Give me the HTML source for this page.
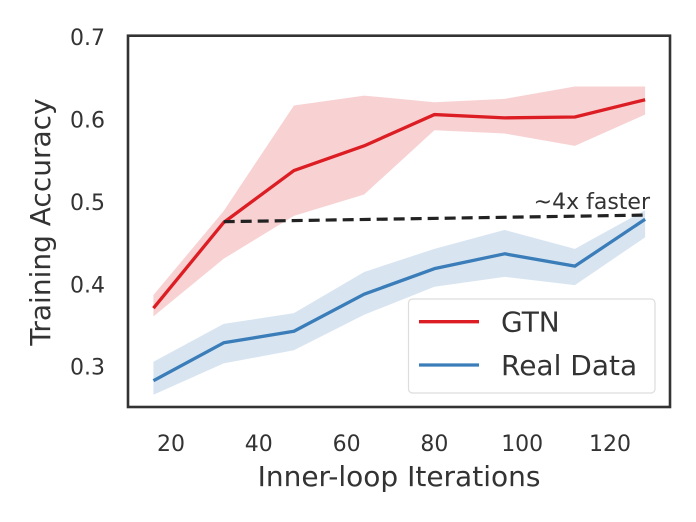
<!DOCTYPE html>
<html><head><meta charset="utf-8"><style>
body{margin:0;background:#fff;}
svg{display:block;font-family:"DejaVu Sans","Liberation Sans",sans-serif;}
</style></head><body>
<svg id="chart" width="696" height="522" viewBox="0 0 696 522"></svg>
<script>
const iterations=[16,32,48,64,80,96,112,128];
const gtnMean=[0.371,0.475,0.538,0.568,0.606,0.602,0.603,0.624];
const gtnUpper=[0.387,0.489,0.617,0.629,0.621,0.625,0.640,0.640];
const gtnLower=[0.361,0.431,0.483,0.509,0.587,0.583,0.568,0.606];
const realMean=[0.283,0.329,0.343,0.388,0.419,0.437,0.422,0.479];
const realUpper=[0.306,0.352,0.365,0.415,0.443,0.466,0.443,0.490];
const realLower=[0.266,0.304,0.320,0.363,0.397,0.409,0.399,0.457];
const xTicks=[20,40,60,80,100,120];
const yTicks=[0.3,0.4,0.5,0.6,0.7];
const dashX=[32,128];
const dashY=[0.476,0.484];

const NS="http://www.w3.org/2000/svg";
const svg=document.getElementById('chart');
const xs=v=>171+(v-20)*4.39;
const ys=v=>366.7-(v-0.3)*824;
function mk(tag,attrs,parent){const e=document.createElementNS(NS,tag);for(const k in attrs)e.setAttribute(k,attrs[k]);(parent||svg).appendChild(e);return e;}
const txt='#333';
const RED='#dc1e24', BLUE='#3a7db9';

function band(up,lo,color,name){
  let d='M'+iterations.map((x,i)=>xs(x)+','+ys(up[i])).join('L');
  d+='L'+iterations.slice().reverse().map((x,j)=>{const i=iterations.length-1-j;return xs(x)+','+ys(lo[i]);}).join('L')+'Z';
  const p=mk('path',{d:d,fill:color,'fill-opacity':0.2,stroke:'none'});
  
  
}
function line(vals,color,name){
  const p=mk('polyline',{points:iterations.map((x,i)=>xs(x)+','+ys(vals[i])).join(' '),fill:'none',stroke:color,'stroke-width':3.3,'stroke-linejoin':'round'});
  
  
}
band(gtnUpper,gtnLower,RED,'gtn-band');
band(realUpper,realLower,BLUE,'real-data-band');
line(gtnMean,RED,'gtn-line');
line(realMean,BLUE,'real-data-line');

const dl=mk('line',{x1:xs(dashX[0]),y1:ys(dashY[0]),x2:xs(dashX[1]),y2:ys(dashY[1]),stroke:'#222','stroke-width':3.2,'stroke-dasharray':'11,6'});


const at=mk('text',{x:650,y:209,'text-anchor':'end','font-size':22,fill:txt});
at.textContent='~4x faster';



const frame=mk('rect',{x:128,y:35.7,width:542,height:371.3,fill:'none',stroke:'#333','stroke-width':2.6});



xTicks.forEach(v=>{const t=mk('text',{x:xs(v),y:451,'text-anchor':'middle','font-size':22,fill:txt});t.textContent=v;

});
yTicks.forEach(v=>{const t=mk('text',{x:105,y:ys(v)+8,'text-anchor':'end','font-size':22,fill:txt});t.textContent=v.toFixed(1);

});

const xt=mk('text',{x:399,y:486,'text-anchor':'middle','font-size':28,fill:txt});xt.textContent='Inner-loop Iterations';


const yt=mk('text',{x:0,y:0,'text-anchor':'middle','font-size':28,fill:txt,transform:'translate(50,222) rotate(-90)'});yt.textContent='Training Accuracy';



const lg=mk('g',{});


mk('rect',{x:408.5,y:299,width:246.5,height:94,rx:4,fill:'#fff','fill-opacity':0.85,stroke:'#ddd','stroke-width':1.2},lg);
[['GTN',RED,321.7],['Real Data',BLUE,365]].forEach(([n,c,y])=>{
  const g=mk('g',{},lg);
  
  
  mk('line',{x1:419,y1:y,x2:479,y2:y,stroke:c,'stroke-width':3.3},g);
  const t=mk('text',{x:501,y:y+10,'font-size':28,fill:txt},g);t.textContent=n;
});
</script>
</body></html>
